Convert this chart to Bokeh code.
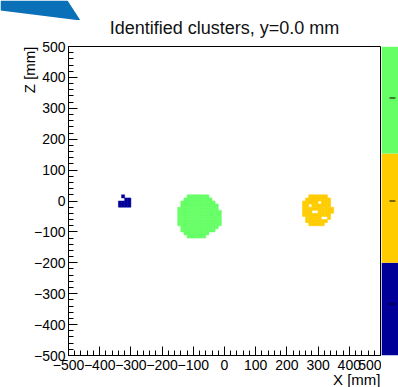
from bokeh.plotting import figure
from bokeh.layouts import row, column
from bokeh.models import FixedTicker, ColumnDataSource, Title
from bokeh.embed import file_html
from bokeh.resources import INLINE

# ---------------- data ----------------
title_text = "Identified clusters, y=0.0 mm"
x_label = "X [mm]"
z_label = "Z [mm]"

major_ticks = [-500, -400, -300, -200, -100, 0, 100, 200, 300, 400, 500]
tick_labels = ["\u2212500", "\u2212400", "\u2212300", "\u2212200", "\u2212100", "0",
               "100", "200", "300", "400", "500"]
minor_ticks = [v for v in range(-500, 501, 20) if v % 100 != 0]

bin_size = 10

# cluster 1 (blue): rows of cells, lower z edge, x extent
c1_z = [10, 0, -10, -20]
c1_xmin = [-330, -320, -340, -340]
c1_xmax = [-320, -300, -300, -300]

# cluster 2 (yellow)
c2_z = [10, 0, -10, -20, -30, -40, -50, -60, -70, -80]
c2_xmin = [270, 260, 250, 250, 250, 250, 250, 260, 260, 270]
c2_xmax = [330, 340, 340, 350, 350, 350, 340, 340, 330, 320]
c2_holes_x = [300, 340, 280, 290, 310, 320, 270]
c2_holes_z = [-10, -20, -40, -40, -60, -60, -20]

# cluster 3 (green)
c3_z = [10, 0, -10, -20, -30, -40, -50, -60, -70, -80, -90, -100, -110, -120]
c3_xmin = [-120, -130, -140, -140, -150, -150, -150, -150, -150, -150, -140, -140, -130, -120]
c3_xmax = [-50, -40, -30, -20, -20, -10, -10, -10, -10, -10, -20, -30, -50, -60]

cluster_ids = [1, 2, 3]
cluster_colors = ["#000099", "#ffcc00", "#66ff66"]
palette_edges = [0.5, 1.4, 2.46, 3.5]

FONT = "Liberation Sans"


def cells(zs, xmins, xmaxs, holes_x=(), holes_z=()):
    holes = set(zip(holes_x, holes_z))
    L, R, B, T = [], [], [], []
    for z, a, b in zip(zs, xmins, xmaxs):
        for x in range(a, b, bin_size):
            if (x, z) in holes:
                continue
            L.append(x); R.append(x + bin_size); B.append(z); T.append(z + bin_size)
    return dict(left=L, right=R, bottom=B, top=T)


W_MAIN, W_CB, H = 381, 17, 387
TOP, BOTTOM = 46, 32

p = figure(width=W_MAIN, height=H, x_range=(-500, 500), y_range=(-500, 500),
           output_backend="svg", toolbar_location=None,
           min_border_left=68, min_border_right=1,
           min_border_top=TOP, min_border_bottom=BOTTOM)
p.title.text = title_text
p.title.align = "center"
p.title.text_font = FONT
p.title.text_font_size = "18px"
p.title.text_font_style = "normal"
p.title.text_color = "#111111"
p.title.standoff = 18
p.grid.visible = False
p.outline_line_color = "black"
p.outline_line_width = 1
p.background_fill_color = "white"
p.border_fill_color = "white"

for ax in (p.xaxis[0], p.yaxis[0]):
    ax.ticker = FixedTicker(ticks=major_ticks, minor_ticks=minor_ticks)
    ax.major_label_overrides = dict(zip(major_ticks, tick_labels))
    ax.major_tick_in = 9
    ax.major_tick_out = 0
    ax.minor_tick_in = 5
    ax.minor_tick_out = 0
    ax.major_tick_line_color = "black"
    ax.minor_tick_line_color = "black"
    ax.axis_line_color = "black"
    ax.major_label_text_font = FONT
    ax.major_label_text_font_size = "14px"
    ax.major_label_text_color = "black"
p.xaxis.major_label_standoff = 4
p.yaxis.major_label_standoff = 3

# axis titles, aligned to the far ends of the axes
p.add_layout(Title(text=x_label, align="right", text_font=FONT,
                   text_font_size="15px", text_font_style="normal",
                   text_color="black", standoff=-8, offset=0), "below")
p.add_layout(Title(text=z_label, align="right", text_font=FONT,
                   text_font_size="15px", text_font_style="normal",
                   text_color="black", standoff=-14, offset=0), "left")

for (zs, a, b, hx, hz), col in zip(
        [(c1_z, c1_xmin, c1_xmax, (), ()),
         (c2_z, c2_xmin, c2_xmax, c2_holes_x, c2_holes_z),
         (c3_z, c3_xmin, c3_xmax, (), ())], cluster_colors):
    src = ColumnDataSource(cells(zs, a, b, hx, hz))
    p.quad(left="left", right="right", bottom="bottom", top="top", source=src,
           fill_color=col, line_color=col, line_width=0.5)

# colour bar
cb = figure(width=W_CB, height=H, x_range=(0, 1), y_range=(0.5, 3.5),
            output_backend="svg", toolbar_location=None,
            x_axis_location=None, y_axis_location=None,
            min_border_left=0, min_border_right=0,
            min_border_top=TOP, min_border_bottom=BOTTOM)
cb.grid.visible = False
cb.outline_line_color = None
cb.border_fill_color = "white"
cb.quad(left=0, right=1, bottom=palette_edges[:-1], top=palette_edges[1:],
        fill_color=cluster_colors, line_color=None)
cb.segment(x0=0.47, x1=0.82, y0=cluster_ids, y1=cluster_ids,
           line_color="black", line_width=1)

# decorative corner shape (top-left of the page)
tri = figure(width=80, height=20, x_range=(0, 80), y_range=(20, 0),
             output_backend="svg", toolbar_location=None,
             x_axis_location=None, y_axis_location=None,
             min_border=0, min_border_left=0, min_border_right=0,
             min_border_top=0, min_border_bottom=0)
tri.grid.visible = False
tri.outline_line_color = None
tri.background_fill_color = None
tri.border_fill_color = None
tri.patch(x=[0, 67, 80, 0], y=[0, 0, 20, 10], fill_color="#0a70b8", line_color=None)
tri.margin = (-H, 0, 0, 0)

layout = column(row(p, cb, spacing=0), tri, spacing=0)
open("out.html", "w").write(file_html(layout, INLINE))
